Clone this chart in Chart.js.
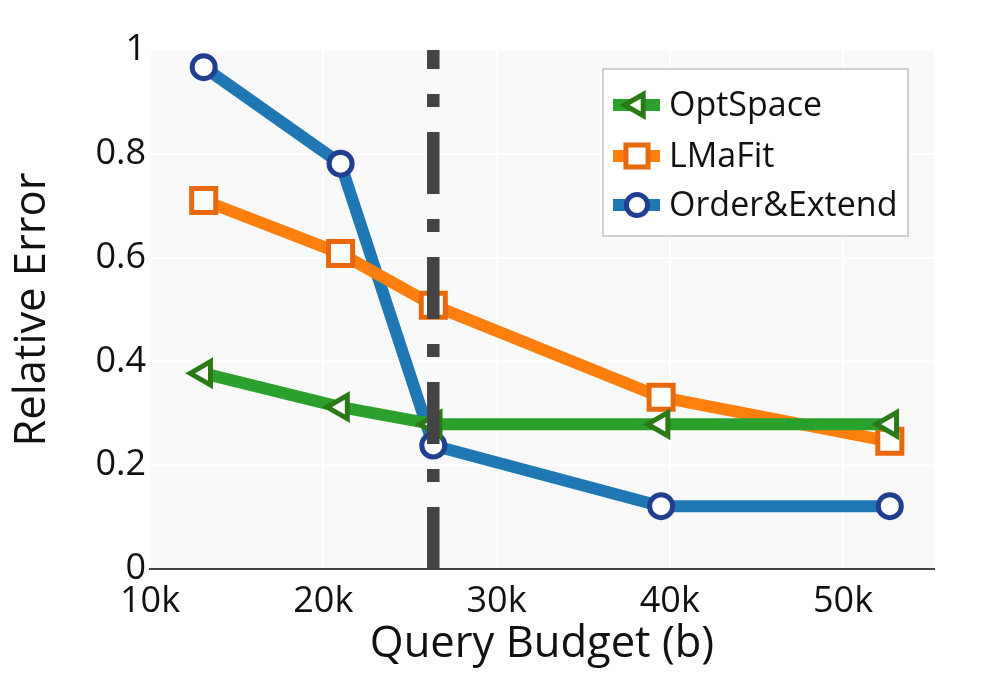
<!DOCTYPE html>
<html>
<head>
<meta charset="utf-8">
<script src="https://cdn.jsdelivr.net/npm/chart.js@4/dist/chart.umd.min.js"></script>
<style>
  html, body { margin: 0; padding: 0; background: #fff; }
  #wrap { width: 1000px; height: 673px; }
</style>
</head>
<body>
<div id="wrap"><canvas id="chart" width="1000" height="673"></canvas></div>
<script>
// values
const budgets = [13100, 21000, 26350, 39500, 52700];
const optSpace = [0.377, 0.312, 0.279, 0.279, 0.279];
const lmaFit = [0.71, 0.608, 0.508, 0.331, 0.246];
const orderExtend = [0.967, 0.781, 0.238, 0.121, 0.121];
const cutoff = 26350;
const xTicks = [10000, 20000, 30000, 40000, 50000];
const yTicks = [0, 0.2, 0.4, 0.6, 0.8, 1];

const FONT = "'Open Sans', 'DejaVu Sans', sans-serif";

function pts(ys) {
  return budgets.map((b, i) => ({ x: b, y: ys[i] }));
}

const datasets = [
  {
    label: "OptSpace",
    data: pts(optSpace),
    borderColor: "#2ca02c",
    pointBorderColor: "#2a7a17",
    pointBackgroundColor: "#fff",
    pointStyle: "triangle",
    rotation: -90,
    pointRadius: 13.5,
    pointBorderWidth: 5,
  },
  {
    label: "LMaFit",
    data: pts(lmaFit),
    borderColor: "#ff7f0e",
    pointBorderColor: "#e8690b",
    pointBackgroundColor: "#fff",
    pointStyle: "rect",
    pointRadius: 17,
    pointBorderWidth: 5,
  },
  {
    label: "Order&Extend",
    data: pts(orderExtend),
    borderColor: "#1f77b4",
    pointBorderColor: "#213f8f",
    pointBackgroundColor: "#fff",
    pointStyle: "circle",
    pointRadius: 11.5,
    pointBorderWidth: 5,
  },
].map((d) => Object.assign({ borderWidth: 12, tension: 0, clip: false, borderJoinStyle: "round", pointHoverRadius: d.pointRadius }, d));

// grey plot background
const plotBg = {
  id: "plotBg",
  beforeDraw(chart) {
    const { ctx, chartArea: a } = chart;
    ctx.save();
    ctx.fillStyle = "#f9f9f9";
    ctx.fillRect(a.left, a.top, a.right - a.left, a.bottom - a.top);
    ctx.restore();
  },
};

// dash-dot vertical marker, drawn bottom-up like the original
const cutLine = {
  id: "cutLine",
  afterDatasetsDraw(chart) {
    const { ctx, chartArea: a, scales } = chart;
    const x = scales.x.getPixelForValue(cutoff);
    ctx.save();
    ctx.strokeStyle = "#444";
    ctx.lineWidth = 12.5;
    ctx.lineCap = "butt";
    ctx.setLineDash([62, 25, 13, 25]);
    ctx.beginPath();
    ctx.moveTo(x, a.bottom);
    ctx.lineTo(x, a.top);
    ctx.stroke();
    ctx.restore();
  },
};

function marker(ctx, ds, x, y) {
  ctx.fillStyle = ds.pointBackgroundColor;
  ctx.strokeStyle = ds.pointBorderColor;
  ctx.lineWidth = ds.pointBorderWidth;
  if (Chart.helpers && Chart.helpers.drawPoint) {
    Chart.helpers.drawPoint(ctx, {
      pointStyle: ds.pointStyle,
      rotation: ds.rotation || 0,
      radius: ds.pointRadius,
      borderWidth: ds.pointBorderWidth,
    }, x, y);
  } else {
    ctx.beginPath();
    ctx.arc(x, y, ds.pointRadius, 0, Math.PI * 2);
    ctx.fill();
    ctx.stroke();
  }
}

// boxed legend with line + marker symbols
const boxLegend = {
  id: "boxLegend",
  afterDraw(chart) {
    const ctx = chart.ctx;
    const box = { x: 603, y: 69, w: 305, h: 167 };
    ctx.save();
    ctx.fillStyle = "#fff";
    ctx.fillRect(box.x, box.y, box.w, box.h);
    ctx.strokeStyle = "#cfcfcf";
    ctx.lineWidth = 2;
    ctx.strokeRect(box.x, box.y, box.w, box.h);
    const rows = [105, 156, 205];
    chart.data.datasets.forEach((ds, i) => {
      const y = rows[i];
      ctx.strokeStyle = ds.borderColor;
      ctx.lineWidth = 12;
      ctx.beginPath();
      ctx.moveTo(613, y);
      ctx.lineTo(660, y);
      ctx.stroke();
      marker(ctx, Object.assign({}, ds, { pointRadius: ds.pointRadius * 0.92 }), 637, y);
      ctx.fillStyle = "#111";
      ctx.font = "34px " + FONT;
      ctx.textAlign = "left";
      ctx.textBaseline = "middle";
      ctx.fillText(ds.label, 669, y + 1);
    });
    ctx.restore();
  },
};

new Chart(document.getElementById("chart"), {
  type: "line",
  data: { datasets },
  plugins: [plotBg, cutLine, boxLegend],
  options: {
    responsive: false,
    animation: false,
    events: [],
    layout: { padding: { left: 0, right: 66, top: 50, bottom: 0 } },
    plugins: { legend: { display: false }, tooltip: { enabled: false } },
    scales: {
      x: {
        type: "linear",
        min: 10000,
        max: 55250,
        afterFit(s) { s.height = 104; },
        afterBuildTicks(s) { s.ticks = xTicks.map((v) => ({ value: v })); },
        ticks: {
          color: "#111",
          padding: 11,
          maxRotation: 0,
          font: { family: FONT, size: 36 },
          callback: (v) => v / 1000 + "k",
        },
        grid: { color: "#fff", lineWidth: 2, drawTicks: false },
        border: { display: true, color: "#444", width: 2 },
        title: {
          display: true,
          text: "Query Budget (b)",
          color: "#111",
          font: { family: FONT, size: 43.5 },
          padding: { top: 0, bottom: 2 },
        },
      },
      y: {
        type: "linear",
        min: 0,
        max: 1,
        afterFit(s) { s.width = 150; },
        afterBuildTicks(s) { s.ticks = yTicks.map((v) => ({ value: v })); },
        ticks: {
          color: "#111",
          padding: 4,
          font: { family: FONT, size: 36 },
          callback: (v) => String(Number(v.toFixed(1))),
        },
        grid: { color: "#fff", lineWidth: 2, drawTicks: false },
        border: { display: false },
        title: {
          display: true,
          text: "Relative Error",
          color: "#111",
          font: { family: FONT, size: 43.5 },
          padding: { top: 7, bottom: 0 },
        },
      },
    },
  },
});
</script>
</body>
</html>
